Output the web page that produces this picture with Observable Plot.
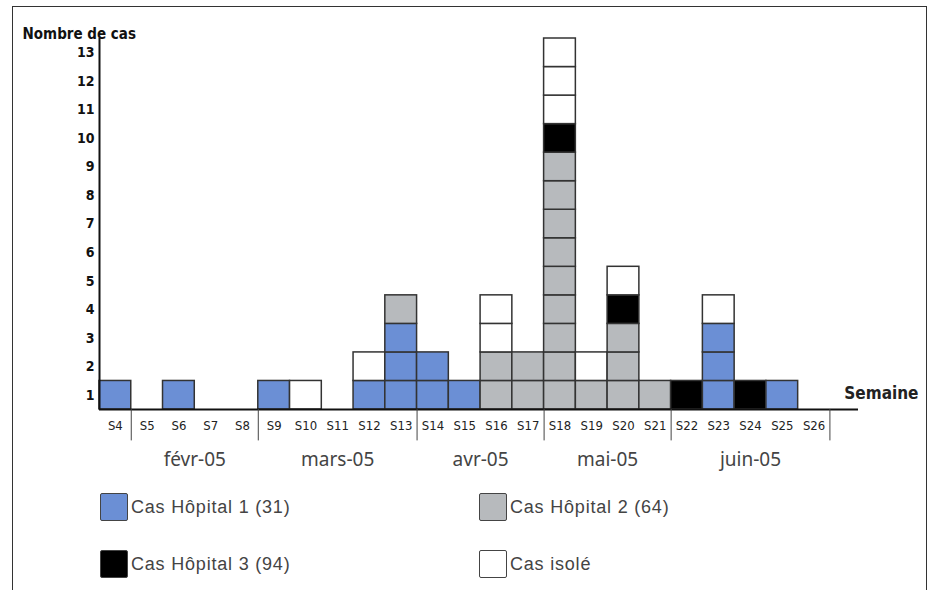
<!DOCTYPE html>
<html>
<head>
<meta charset="utf-8">
<script src="https://cdn.jsdelivr.net/npm/d3@7"></script>
<script src="https://cdn.jsdelivr.net/npm/@observablehq/plot@0.6"></script>
<style>
  html, body { margin: 0; padding: 0; background: #fff; }
  #wrap { position: relative; width: 935px; height: 590px; overflow: hidden; font-family: "Liberation Sans", Arial, sans-serif; }
  #border { position: absolute; left: 12px; top: 6px; width: 915px; height: 620px; border: 1.5px solid #333; box-sizing: border-box; }
  #chart { position: absolute; left: 0; top: 0; }
  .leg { position: absolute; display: flex; align-items: center; font-size: 18px; letter-spacing: 0.8px; color: #444; }
  .sw { width: 28px; height: 28px; border: 1.5px solid #444; box-sizing: border-box; margin-right: 3px; border-radius: 2px; }
</style>
</head>
<body>
<div id="wrap">
  <div id="border"></div>
  <div id="chart"></div>
  <div id="legend"></div>
</div>
<script>
// ---- data ----
const weeks = [4,5,6,7,8,9,10,11,12,13,14,15,16,17,18,19,20,21,22,23,24,25,26];
const hopital1 = [1,0,1,0,0,1,0,0,1,3,2,1,0,0,0,0,0,0,0,3,0,1,0];
const hopital2 = [0,0,0,0,0,0,0,0,0,1,0,0,2,2,9,1,3,1,0,0,0,0,0];
const hopital3 = [0,0,0,0,0,0,0,0,0,0,0,0,0,0,1,0,1,0,1,0,1,0,0];
const isoles   = [0,0,0,0,0,0,1,0,1,0,0,0,2,0,3,1,1,0,0,1,0,0,0];
const seriesNames = ["Cas Hôpital 1 (31)", "Cas Hôpital 2 (64)", "Cas Hôpital 3 (94)", "Cas isolé"];
const seriesColors = ["#6b8fd5", "#b7babd", "#000000", "#ffffff"];
const yTicks = [1,2,3,4,5,6,7,8,9,10,11,12,13];
const monthLabels = ["févr-05", "mars-05", "avr-05", "mai-05", "juin-05"];
const monthFirst = [5, 9, 14, 18, 22];
const monthLast  = [8, 13, 17, 21, 26];

// ---- unit cells (one per case), stacked in series order ----
const seriesValues = [hopital1, hopital2, hopital3, isoles];
const cells = [];
weeks.forEach((w, i) => {
  let level = 0;
  seriesValues.forEach((vals, s) => {
    for (let k = 0; k < vals[i]; k++) {
      cells.push({week: w, serie: seriesNames[s], y1: level, y2: level + 1});
      level++;
    }
  });
});
const months = monthLabels.map((m, i) => ({label: m, mid: (monthFirst[i] + monthLast[i]) / 2}));
const separators = [monthFirst[0] - 0.5, ...monthLast.map(l => l + 0.5)];

const narrow = "'DejaVu Sans Condensed', 'Liberation Sans Narrow', 'Liberation Sans', sans-serif";

const chart = Plot.plot({
  width: 935,
  height: 480,
  marginLeft: 99,
  marginRight: 77,
  marginTop: 38,
  marginBottom: 71,
  x: {domain: [3.5, 27.4], axis: null},
  y: {domain: [0, 13], axis: null},
  color: {domain: seriesNames, range: seriesColors},
  style: {background: "transparent", overflow: "visible"},
  marks: [
    Plot.rect(cells, {
      x1: d => d.week - 0.5, x2: d => d.week + 0.5,
      y1: "y1", y2: "y2",
      fill: "serie", stroke: "#333", strokeWidth: 1.5
    }),
    Plot.ruleY([0], {stroke: "#111", strokeWidth: 2}),
    Plot.ruleX([3.5], {stroke: "#111", strokeWidth: 2}),
    Plot.ruleX(separators, {y1: 0, y2: -1.1, stroke: "#444", strokeWidth: 1}),
    Plot.text(yTicks, {
      x: 3.5, y: d => d - 0.5, text: d => String(d),
      textAnchor: "end", dx: -5, fontSize: 14, fontWeight: "bold",
      fontFamily: narrow, fill: "#111"
    }),
    Plot.text(weeks, {
      x: d => d, y: 0, text: d => "S" + d, dy: 16,
      fontSize: 13, fontFamily: narrow, fill: "#222"
    }),
    Plot.text(months, {
      x: "mid", y: 0, text: "label", dy: 50,
      fontSize: 19, fill: "#444"
    }),
    Plot.text(["Nombre de cas"], {
      frameAnchor: "top-left", textAnchor: "start", dx: -77, dy: -10,
      fontSize: 15, fontWeight: "bold", fontFamily: narrow, fill: "#111"
    }),
    Plot.text(["Semaine"], {
      frameAnchor: "bottom-right", textAnchor: "end", dx: 60, dy: -11,
      fontSize: 17, fontWeight: "bold", fontFamily: narrow, fill: "#222"
    })
  ]
});
document.getElementById("chart").appendChild(chart);

// ---- legend (HTML below the SVG) ----
const legendPos = [[100, 493], [479, 493], [100, 550], [479, 550]];
const legend = document.getElementById("legend");
seriesNames.forEach((name, i) => {
  const item = document.createElement("div");
  item.className = "leg";
  item.style.left = legendPos[i][0] + "px";
  item.style.top = legendPos[i][1] + "px";
  const sw = document.createElement("div");
  sw.className = "sw";
  sw.style.background = seriesColors[i];
  item.appendChild(sw);
  const t = document.createElement("span");
  t.textContent = name;
  item.appendChild(t);
  legend.appendChild(item);
});
</script>
</body>
</html>
